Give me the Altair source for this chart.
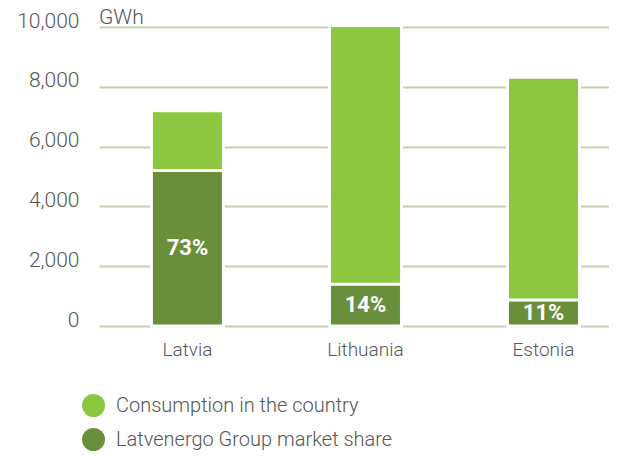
import altair as alt
import pandas as pd

countries = ["Latvia", "Lithuania", "Estonia"]
consumption = [7200, 10050, 8320]
market_share = [5200, 1400, 870]
share_labels = ["73%", "14%", "11%"]
series = ["Consumption in the country", "Latvenergo Group market share"]
colors = ["#8dc63f", "#6a8f3c"]
y_ticks = [0, 2000, 4000, 6000, 8000, 10000]
unit = "GWh"

rows = []
for c, v in zip(countries, consumption):
    rows.append({"country": c, "series": series[0], "value": v, "ord": 0})
for c, v in zip(countries, market_share):
    rows.append({"country": c, "series": series[1], "value": v, "ord": 1})
df = pd.DataFrame(rows)

lab = pd.DataFrame({"country": countries, "mid": [v / 2 for v in market_share], "label": share_labels})

FONT = "Roboto"
x_enc = alt.X("country:N", sort=countries, title=None,
              scale=alt.Scale(paddingInner=0.5955, paddingOuter=0.23, align=0.64),
              axis=alt.Axis(labelFontSize=19, labelColor="#555555", labelFont=FONT, labelFontWeight=300,
                            labelPadding=14, domain=False, ticks=False, labelAngle=0))

bars = alt.Chart(df).mark_bar(stroke="white", strokeWidth=3).encode(
    x=x_enc,
    y=alt.Y("value:Q", stack=None, scale=alt.Scale(domain=[0, 10000], nice=False),
            axis=alt.Axis(values=y_ticks, format=",.0f", labelFontSize=21, labelColor="#555555",
                          labelFont=FONT, labelFontWeight=300, labelBaseline="alphabetic",
                          labelPadding=20, domain=False, ticks=False,
                          gridColor="#c6d0ae", gridWidth=2, title=None)),
    color=alt.Color("series:N", scale=alt.Scale(domain=series, range=colors),
                    legend=alt.Legend(title=None, orient="none", legendX=-17, legendY=367,
                                      symbolType="circle", symbolSize=529, symbolStrokeWidth=0,
                                      labelFontSize=20, labelFont=FONT, labelFontWeight=300,
                                      labelColor="#555555", rowPadding=11, labelOffset=11,
                                      labelLimit=500, padding=0)),
    order=alt.Order("ord:Q"),
)

texts = alt.Chart(lab).mark_text(color="white", fontSize=22, fontWeight="bold", font=FONT,
                                  baseline="middle").encode(
    x=alt.X("country:N", sort=countries),
    y=alt.Y("mid:Q"),
    text="label:N",
)

unit_text = alt.Chart(pd.DataFrame({"t": [unit], "v": [y_ticks[-1]]})).mark_text(
    align="left", baseline="alphabetic", dy=-3, fontSize=21, font=FONT, fontWeight=300,
    color="#555555").encode(
    x=alt.value(0),
    y=alt.Y("v:Q"),
    text="t:N",
)

chart = alt.layer(bars, texts, unit_text).properties(
    width=510, height=299,
    autosize=alt.AutoSizeParams(type="none"),
    padding={"left": 91, "top": 19, "right": 0, "bottom": 127},
).configure_view(stroke=None)

chart.save("out.html", embed_options={"renderer": "svg", "actions": False})
